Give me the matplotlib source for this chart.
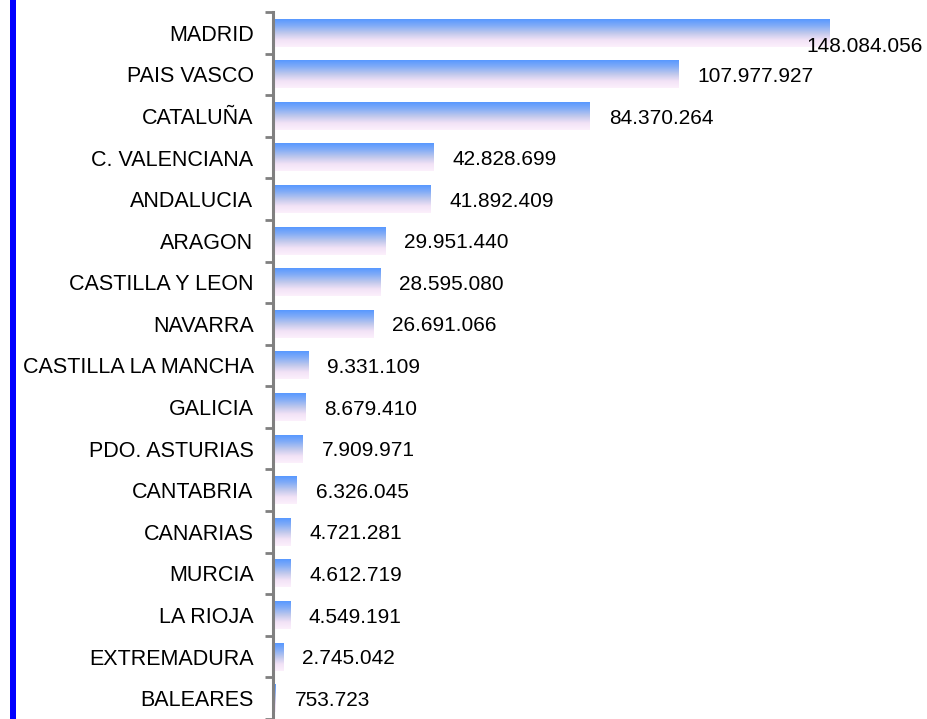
import numpy as np
import matplotlib.pyplot as plt
from matplotlib.colors import LinearSegmentedColormap
from matplotlib.patches import Rectangle

regiones = ["MADRID", "PAIS VASCO", "CATALUÑA", "C. VALENCIANA", "ANDALUCIA",
            "ARAGON", "CASTILLA Y LEON", "NAVARRA", "CASTILLA LA MANCHA", "GALICIA",
            "PDO. ASTURIAS", "CANTABRIA", "CANARIAS", "MURCIA", "LA RIOJA",
            "EXTREMADURA", "BALEARES"]
valores = [148084056, 107977927, 84370264, 42828699, 41892409,
           29951440, 28595080, 26691066, 9331109, 8679410,
           7909971, 6326045, 4721281, 4612719, 4549191,
           2745042, 753723]


def fmt(v):
    return f"{v:,}".replace(",", ".")


plt.rcParams['font.family'] = ['Liberation Sans', 'DejaVu Sans']

fig = plt.figure(figsize=(9.28, 7.19), dpi=100)
ax = fig.add_axes([273 / 928, 0, 1 - 273 / 928, 1 - 12 / 719])

grad = LinearSegmentedColormap.from_list(
    "barra", ["#5898ff", "#86aef6", "#c0c8ec", "#f2e2f6", "#fcf0fc"])
g = np.linspace(0, 1, 64).reshape(-1, 1)

alto = 0.67
pos = np.arange(len(regiones))
barras = ax.barh(pos, valores, height=alto, color="none", edgecolor="none")
for b in barras:
    x0, y0 = b.get_x(), b.get_y()
    w, h = b.get_width(), b.get_height()
    ax.imshow(g, cmap=grad, aspect="auto", interpolation="bilinear",
              extent=(x0, x0 + w, y0 + h, y0), zorder=2)

xmax = 174.4e6
ax.set_xlim(0, xmax)
ax.set_ylim(16.37, -0.5)

for i, v in enumerate(valores):
    if i == 0:
        ax.text(v - 6.0e6, i + 0.32, fmt(v), va="center", ha="left",
                fontsize=15, zorder=3)
    else:
        ax.text(v + 5e6, i + 0.05, fmt(v), va="center", ha="left",
                fontsize=15, zorder=3)

ax.set_yticks(pos)
ax.set_yticklabels(regiones, fontsize=15.5)
ax.tick_params(axis="y", which="major", length=0, pad=14)
ax.set_yticks(np.arange(-0.5, len(regiones), 1), minor=True)
ax.tick_params(axis="y", which="minor", length=6, width=2, color="#808080")
ax.set_xticks([])

for s in ["top", "right", "bottom"]:
    ax.spines[s].set_visible(False)
ax.spines["left"].set_color("#808080")
ax.spines["left"].set_linewidth(2.2)

fig.add_artist(Rectangle((10 / 928, 0), 6 / 928, 1, transform=fig.transFigure,
                         color="#0000ff", lw=0))

fig.savefig("out.png", dpi=100)
